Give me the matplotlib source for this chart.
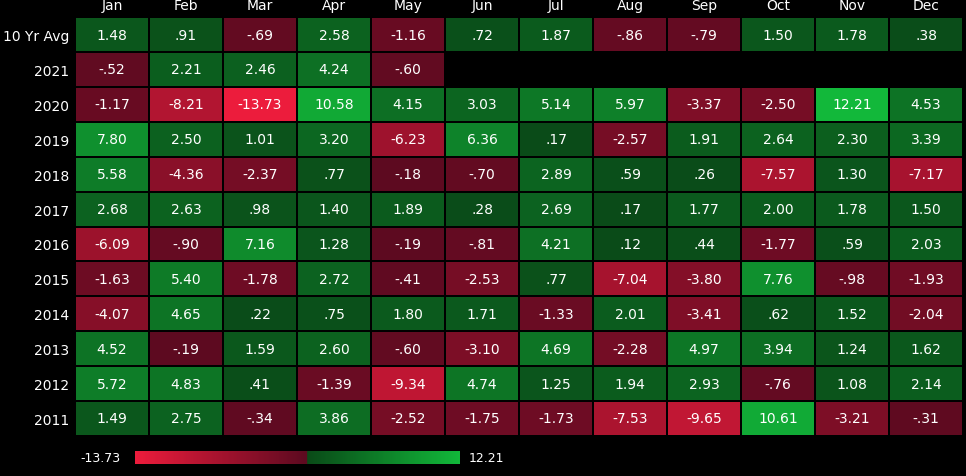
import numpy as np
import matplotlib.pyplot as plt
from matplotlib.colors import LinearSegmentedColormap, TwoSlopeNorm

months = ["Jan", "Feb", "Mar", "Apr", "May", "Jun", "Jul", "Aug", "Sep", "Oct", "Nov", "Dec"]
rows = ["10 Yr Avg", "2021", "2020", "2019", "2018", "2017", "2016", "2015", "2014", "2013", "2012", "2011"]

avg10 = [1.48, .91, -.69, 2.58, -1.16, .72, 1.87, -.86, -.79, 1.50, 1.78, .38]
y2021 = [-.52, 2.21, 2.46, 4.24, -.60] + [np.nan] * 7
y2020 = [-1.17, -8.21, -13.73, 10.58, 4.15, 3.03, 5.14, 5.97, -3.37, -2.50, 12.21, 4.53]
y2019 = [7.80, 2.50, 1.01, 3.20, -6.23, 6.36, .17, -2.57, 1.91, 2.64, 2.30, 3.39]
y2018 = [5.58, -4.36, -2.37, .77, -.18, -.70, 2.89, .59, .26, -7.57, 1.30, -7.17]
y2017 = [2.68, 2.63, .98, 1.40, 1.89, .28, 2.69, .17, 1.77, 2.00, 1.78, 1.50]
y2016 = [-6.09, -.90, 7.16, 1.28, -.19, -.81, 4.21, .12, .44, -1.77, .59, 2.03]
y2015 = [-1.63, 5.40, -1.78, 2.72, -.41, -2.53, .77, -7.04, -3.80, 7.76, -.98, -1.93]
y2014 = [-4.07, 4.65, .22, .75, 1.80, 1.71, -1.33, 2.01, -3.41, .62, 1.52, -2.04]
y2013 = [4.52, -.19, 1.59, 2.60, -.60, -3.10, 4.69, -2.28, 4.97, 3.94, 1.24, 1.62]
y2012 = [5.72, 4.83, .41, -1.39, -9.34, 4.74, 1.25, 1.94, 2.93, -.76, 1.08, 2.14]
y2011 = [1.49, 2.75, -.34, 3.86, -2.52, -1.75, -1.73, -7.53, -9.65, 10.61, -3.21, -.31]

data = np.array([avg10, y2021, y2020, y2019, y2018, y2017, y2016, y2015, y2014,
                 y2013, y2012, y2011], dtype=float)
vmin, vmax = -13.73, 12.21

def fmt(v):
    s = f"{abs(v):.2f}"
    if s.startswith("0"):
        s = s[1:]
    return ("-" if v < 0 else "") + s

cmap = LinearSegmentedColormap.from_list("rg", [
    (0.0, "#ec1c3c"), (0.499, "#5c0a20"), (0.501, "#0a4a18"), (1.0, "#12b83a")])
norm = TwoSlopeNorm(vmin=vmin, vcenter=0, vmax=vmax)

fig = plt.figure(figsize=(9.66, 4.77), dpi=100, facecolor="black")
ax = fig.add_axes([0.0776, 0.084, 0.9194, 0.878])
ax.set_facecolor("black")
ax.pcolormesh(np.ma.masked_invalid(data), cmap=cmap, norm=norm,
              edgecolors="black", linewidth=1.2)
ax.set_xlim(0, 12)
ax.set_ylim(12, 0)
for i in range(data.shape[0]):
    for j in range(data.shape[1]):
        if not np.isnan(data[i, j]):
            ax.text(j + 0.5, i + 0.5, fmt(data[i, j]), ha="center", va="center",
                    color="white", fontsize=10)
ax.xaxis.tick_top()
ax.set_xticks(np.arange(12) + 0.5)
ax.set_xticklabels(months, color="white", fontsize=10)
ax.set_yticks(np.arange(12) + 0.5)
ax.set_yticklabels(rows, color="white", fontsize=10)
ax.tick_params(length=0, pad=4)
for s in ax.spines.values():
    s.set_visible(False)

cax = fig.add_axes([0.14, 0.025, 0.336, 0.027])
grad = np.linspace(vmin, vmax, 300).reshape(1, -1)
cax.imshow(grad, aspect="auto", cmap=cmap, norm=norm, extent=[vmin, vmax, 0, 1])
cax.set_xticks([])
cax.set_yticks([])
for s in cax.spines.values():
    s.set_visible(False)
fig.text(0.125, 0.038, "-13.73", color="white", fontsize=9, ha="right", va="center")
fig.text(0.485, 0.038, "12.21", color="white", fontsize=9, ha="left", va="center")

fig.savefig("out.png", facecolor="black")
